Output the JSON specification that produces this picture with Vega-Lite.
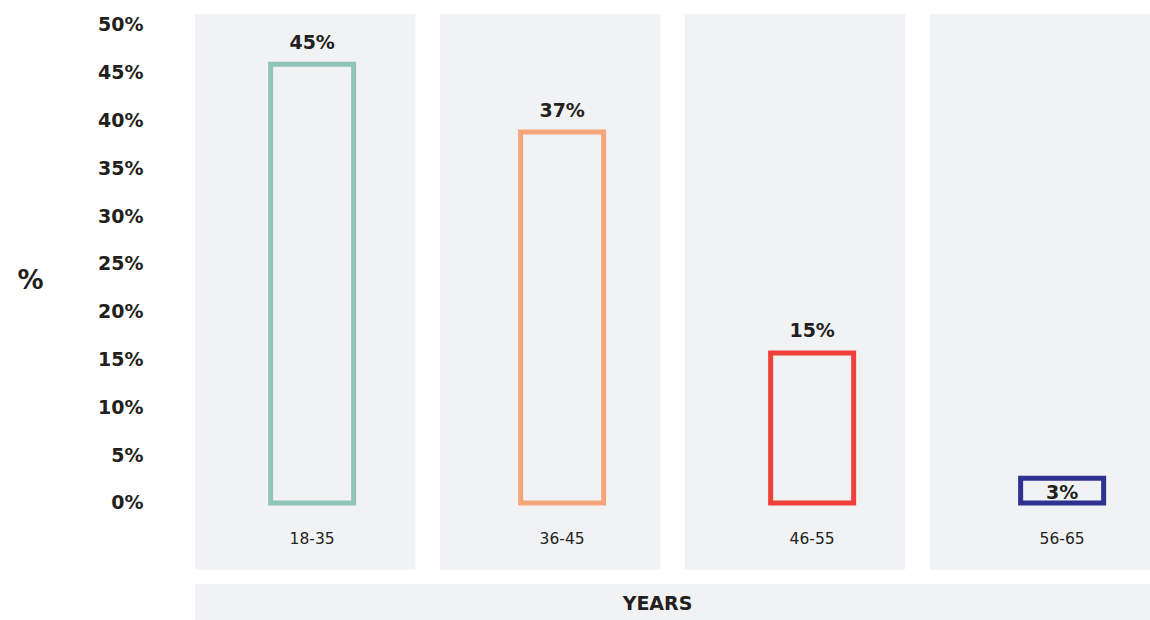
{
  "$schema": "https://vega.github.io/schema/vega-lite/v6.json",
  "autosize": "none",
  "padding": {"left": 195, "top": 14, "right": 0, "bottom": 0},
  "width": 955,
  "height": 606,
  "background": "white",
  "config": {"view": {"stroke": null}},
  "datasets": {
    "ages": [
      {"group": "18-35", "value": 45.9, "label": "45%"},
      {"group": "36-45", "value": 38.8, "label": "37%"},
      {"group": "46-55", "value": 15.7, "label": "15%"},
      {"group": "56-65", "value": 2.6, "label": "3%"}
    ],
    "xtitle": [{"title": "YEARS"}]
  },
  "layer": [
    {
      "data": {"name": "ages"},
      "mark": {"type": "rect", "color": "#f1f2f4"},
      "encoding": {
        "x": {"field": "group", "type": "nominal", "sort": null, "scale": {"type": "band", "paddingInner": 0.1, "paddingOuter": 0}, "axis": null},
        "y": {"datum": 51.15, "type": "quantitative"},
        "y2": {"datum": -6.96}
      }
    },
    {
      "data": {"name": "xtitle"},
      "mark": {"type": "rect", "color": "#f1f2f4"},
      "encoding": {
        "y": {"datum": -8.47, "type": "quantitative"},
        "y2": {"datum": -12.24}
      }
    },
    {
      "data": {"name": "xtitle"},
      "mark": {"type": "text", "font": "DejaVu Sans", "fontWeight": "bold", "fontSize": 19, "color": "#231f20", "baseline": "middle", "align": "center", "dx": -15},
      "encoding": {
        "y": {"datum": -10.56, "type": "quantitative"},
        "text": {"field": "title"}
      }
    },
    {
      "data": {"name": "ages"},
      "layer": [
        {
          "mark": {"type": "bar", "filled": false, "strokeWidth": 5},
          "encoding": {
            "x": {"field": "group", "type": "nominal", "sort": null,
              "scale": {"type": "band", "paddingInner": 0.668, "paddingOuter": 0.244, "align": 0.62},
              "axis": {"title": null, "zindex": 1, "labelAngle": 0, "domain": false, "ticks": false, "offset": -82, "labelPadding": 0, "labelBaseline": "middle", "labelFont": "DejaVu Sans", "labelFontSize": 15.5, "labelColor": "#231f20"}},
            "y": {"field": "value", "type": "quantitative",
              "scale": {"domain": [-12.24, 51.15], "nice": false, "zero": false},
              "axis": {"values": [0, 5, 10, 15, 20, 25, 30, 35, 40, 45, 50], "labelExpr": "datum.value + '%'", "grid": false, "domain": false, "ticks": false, "labelPadding": 52, "labelFont": "DejaVu Sans", "labelFontWeight": "bold", "labelFontSize": 19, "labelColor": "#231f20",
                "title": "%", "titleAngle": 0, "titleX": -165, "titleY": 266, "titleFont": "DejaVu Sans", "titleFontSize": 26, "titleFontWeight": "bold", "titleColor": "#231f20", "titleAlign": "center", "titleBaseline": "middle"}},
            "color": {"field": "group", "type": "nominal", "sort": null, "legend": null,
              "scale": {"range": ["#8fc4b8", "#f4a67a", "#ef4138", "#2e3192"]}}
          }
        },
        {
          "transform": [{"filter": "datum.value >= 5"}],
          "mark": {"type": "text", "font": "DejaVu Sans", "fontWeight": "bold", "fontSize": 19, "color": "#231f20", "baseline": "middle", "dy": -21.5},
          "encoding": {
            "x": {"field": "group", "type": "nominal", "sort": null},
            "y": {"field": "value", "type": "quantitative"},
            "text": {"field": "label"}
          }
        },
        {
          "transform": [{"filter": "datum.value < 5"}],
          "mark": {"type": "text", "font": "DejaVu Sans", "fontWeight": "bold", "fontSize": 19, "color": "#231f20", "baseline": "middle", "dy": 15},
          "encoding": {
            "x": {"field": "group", "type": "nominal", "sort": null},
            "y": {"field": "value", "type": "quantitative"},
            "text": {"field": "label"}
          }
        }
      ]
    }
  ],
  "resolve": {"scale": {"x": "independent"}, "axis": {"x": "independent"}}
}
